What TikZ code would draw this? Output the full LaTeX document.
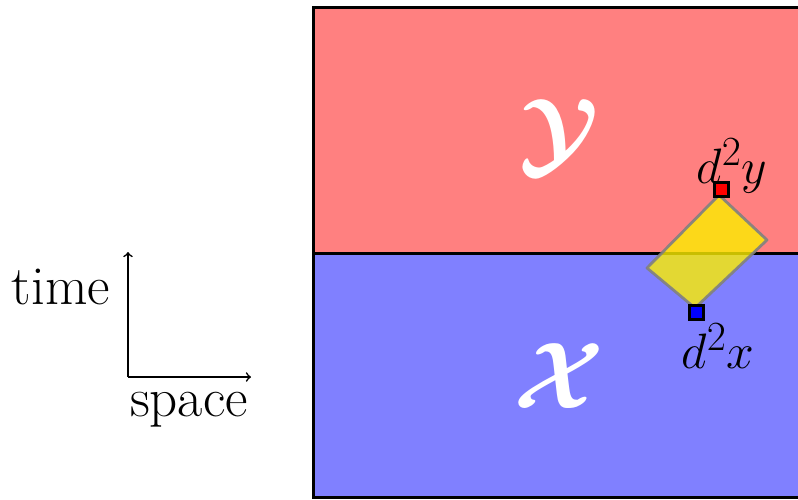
\documentclass[tikz,border=0pt]{standalone}
\definecolor{regY}{RGB}{255,128,128}
\definecolor{regX}{RGB}{128,128,255}
\definecolor{patch}{RGB}{252,238,0}
\newcommand{\bigcal}[1]{\scalebox{1.9}{$\mathcal{#1}$}}
\tikzset{
  region/.style={draw=black, line width=1.5pt},
  axis/.style={->, line width=0.8pt},
  lbl/.style={font=\fontsize{27.5}{32}\selectfont, inner sep=0pt},
  big/.style={font=\Huge\boldmath, text=white, inner sep=0pt},
  pt/.style={draw=black, line width=1.5pt, minimum size=7pt, inner sep=0pt},
}
\begin{document}
\begin{tikzpicture}[x=0.5pt,y=-0.5pt]
\useasboundingbox (0,0) rectangle (798,499);
% regions
\fill[regY] (313,7) rectangle (805,253);
\fill[regX] (313,253) rectangle (805,497);
\draw[region] (805,7) -- (313,7) -- (313,497) -- (805,497);
\draw[region] (313,253) -- (805,253);
\node[big] (Y) at (559,137) {\bigcal{Y}};
\node[big] (X) at (559,376) {\bigcal{X}};
% patch
\coordinate (t) at (719,195);
\coordinate (r) at (767,240);
\coordinate (b) at (695,308);
\coordinate (l) at (647,268);
\filldraw[fill=patch, fill opacity=0.8, draw=gray, draw opacity=0.9, line width=1.4pt, line join=round] (t) -- (r) -- (b) -- (l) -- cycle;
\node[pt, fill=red] (dy) at (721,189) {};
\node[pt, fill=blue] (dx) at (696,312) {};
\node[lbl] (ly) at (732,166) {$d^2y$};
\node[lbl] (lx) at (718,346) {$d^2x$};
% axes
\coordinate (o) at (128,377);
\coordinate (ty) at (128,252);
\coordinate (sx) at (251,377);
\draw[axis] (o) -- (ty);
\draw[axis] (o) -- (sx);
\node[lbl] (time) at (61,287) {time};
\node[lbl] (space) at (189,410) {space};
\end{tikzpicture}
\end{document}
